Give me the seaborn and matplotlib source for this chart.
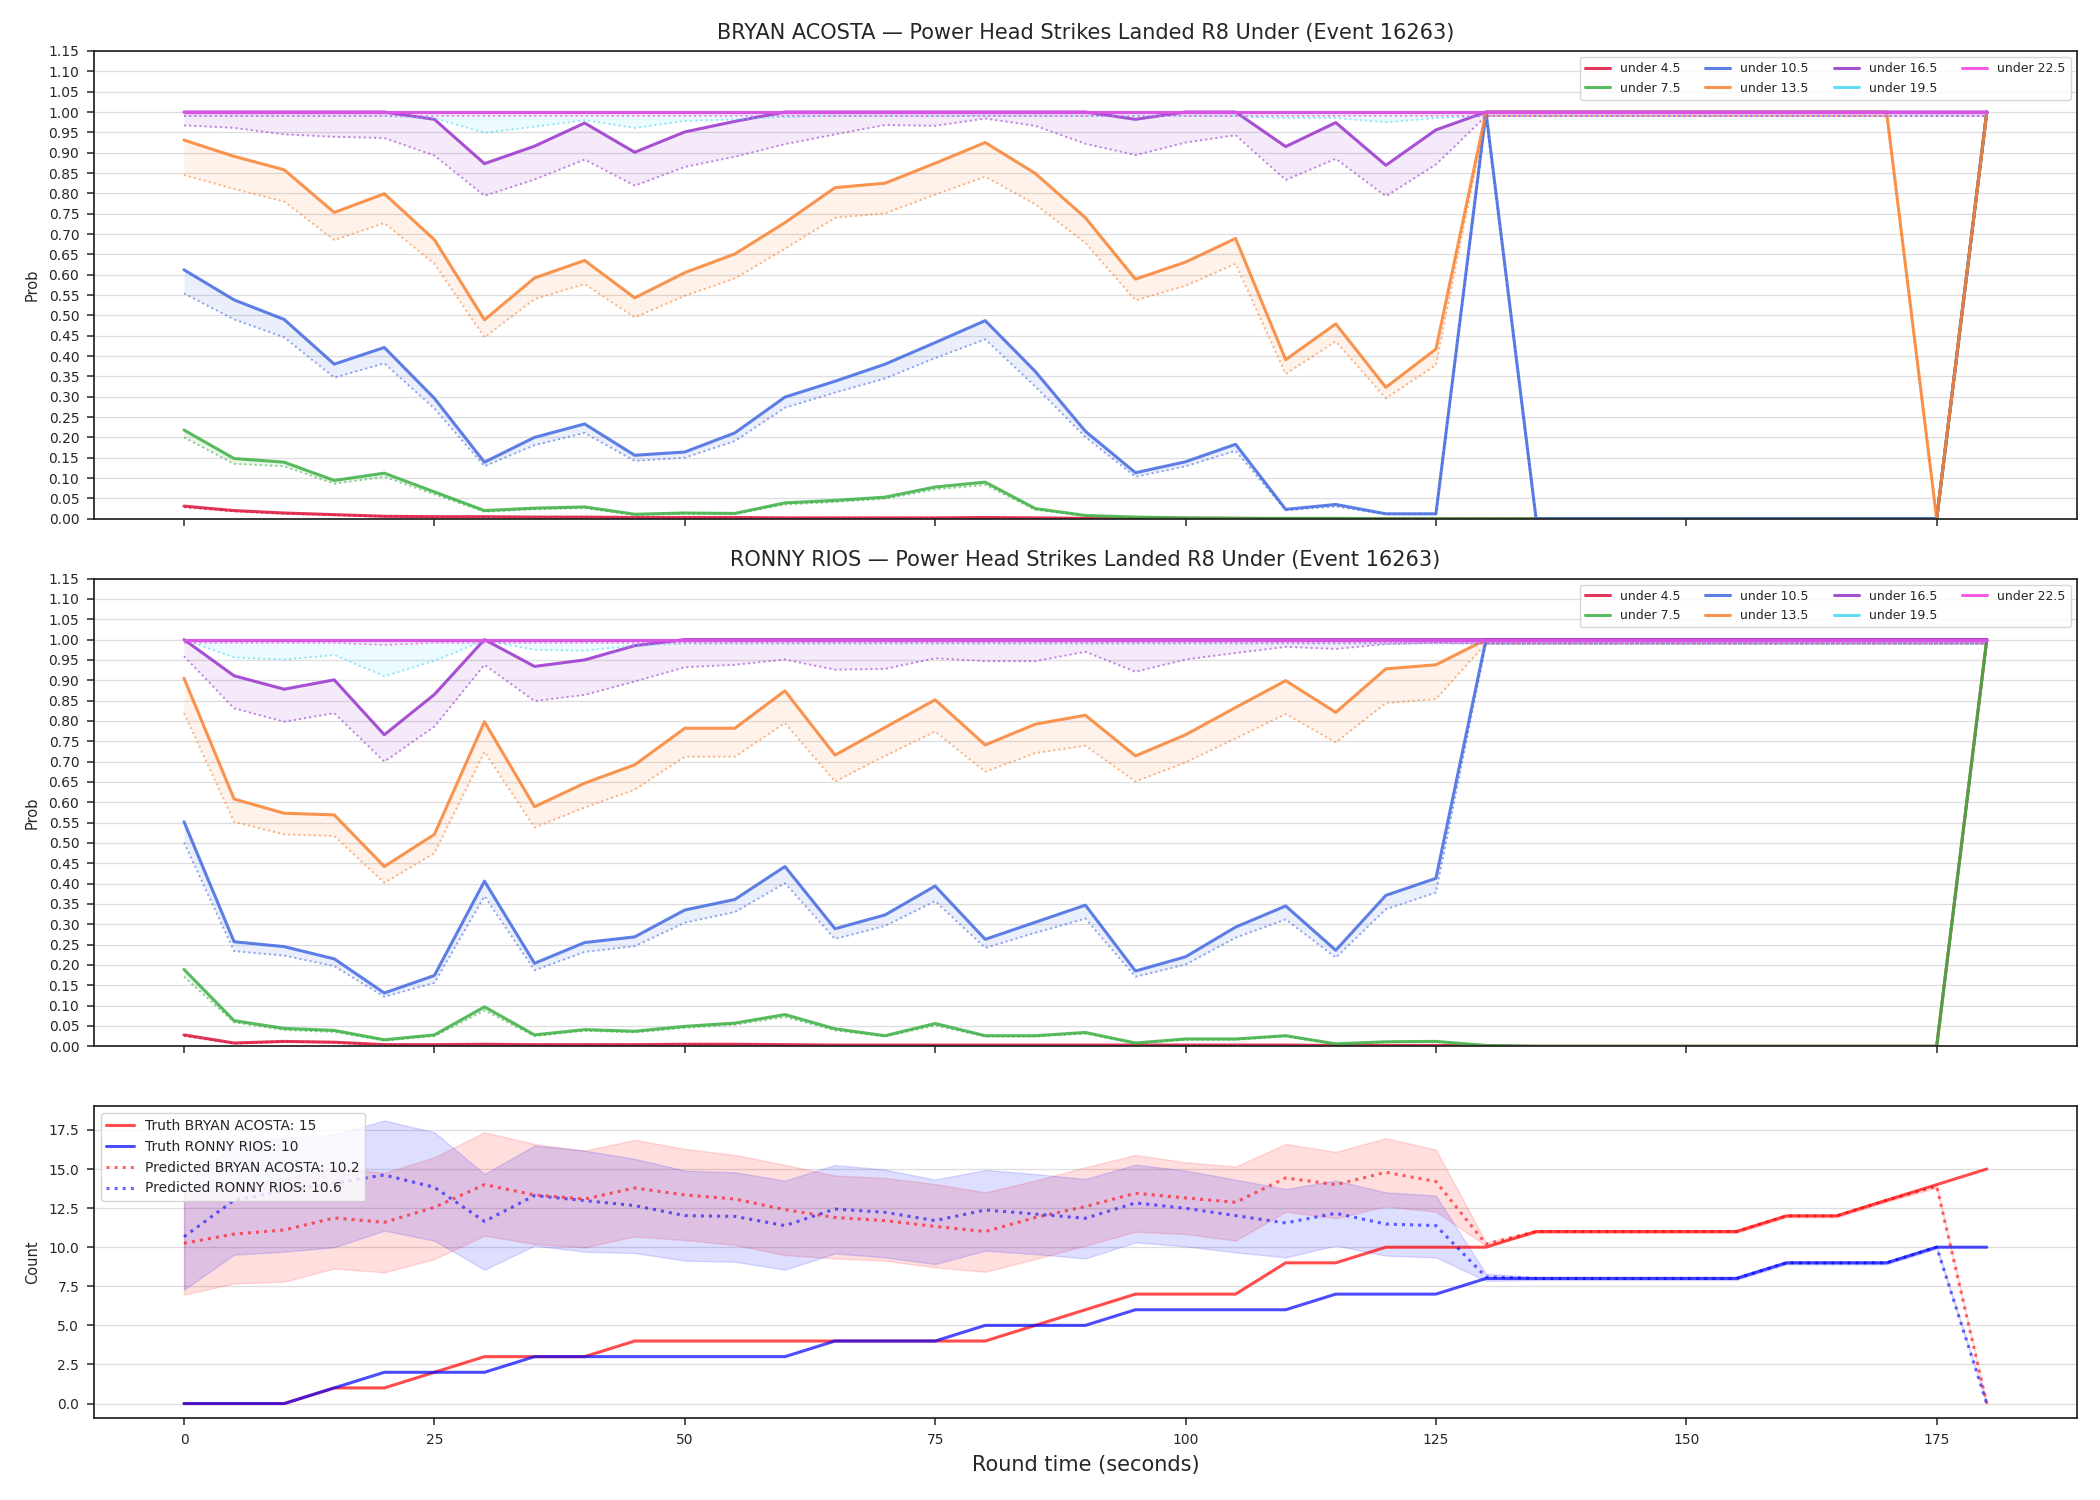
import numpy as np
import pandas as pd
import seaborn as sns
import matplotlib.pyplot as plt
from matplotlib.ticker import FormatStrFormatter

# round time, every 5 s
t = list(range(0, 181, 5))

labels = ["under 4.5", "under 7.5", "under 10.5", "under 13.5", "under 16.5", "under 19.5", "under 22.5"]
colori = ["#DC143C", "#3CB043", "#4169E1", "#F98231", "#9932CC", "#46D8F2", "#F23EE2"]

# --- BRYAN ACOSTA: probabilita' (linea piena) e banda inferiore (punteggiata) ---
b_u45 = [0.031, 0.020, 0.014, 0.010, 0.006, 0.005, 0.005, 0.004, 0.004, 0.003, 0.003, 0.003, 0.002,
         0.002, 0.002, 0.002, 0.003, 0.002, 0.001, 0.001, 0.001, 0.001, 0.0, 0.0, 0.0, 0.0, 0.0] + [0.0] * 9 + [1.0]
b_u45_lo = [0.028, 0.018, 0.012, 0.009, 0.005, 0.004, 0.004, 0.003, 0.003, 0.002, 0.002, 0.002, 0.002,
            0.002, 0.002, 0.002, 0.002, 0.002, 0.001, 0.001, 0.001, 0.001, 0.0, 0.0, 0.0, 0.0, 0.0] + [0.0] * 9 + [0.99]
b_u75 = [0.218, 0.148, 0.139, 0.094, 0.112, 0.066, 0.020, 0.026, 0.029, 0.011, 0.014, 0.013, 0.039,
         0.045, 0.053, 0.078, 0.090, 0.025, 0.008, 0.004, 0.002, 0.001, 0.001, 0.001, 0.0, 0.0, 0.0] + [0.0] * 9 + [1.0]
b_u75_lo = [0.200, 0.135, 0.129, 0.086, 0.103, 0.060, 0.017, 0.023, 0.026, 0.009, 0.012, 0.011, 0.035,
            0.041, 0.049, 0.072, 0.083, 0.022, 0.007, 0.003, 0.002, 0.001, 0.001, 0.001, 0.0, 0.0, 0.0] + [0.0] * 9 + [0.99]
b_u105 = [0.612, 0.538, 0.490, 0.380, 0.421, 0.296, 0.139, 0.200, 0.233, 0.156, 0.164, 0.211, 0.299,
          0.338, 0.380, 0.433, 0.487, 0.362, 0.215, 0.113, 0.140, 0.183, 0.023, 0.035, 0.012, 0.012, 1.0] + [0.0] * 9 + [1.0]
b_u105_lo = [0.554, 0.490, 0.446, 0.347, 0.382, 0.271, 0.129, 0.181, 0.211, 0.142, 0.150, 0.191, 0.273,
             0.310, 0.345, 0.395, 0.441, 0.325, 0.201, 0.103, 0.129, 0.167, 0.021, 0.030, 0.011, 0.011, 0.99] + [0.0] * 9 + [0.99]
b_u135 = [0.931, 0.891, 0.858, 0.753, 0.799, 0.686, 0.489, 0.592, 0.635, 0.543, 0.605, 0.651, 0.728,
          0.814, 0.825, 0.874, 0.925, 0.849, 0.740, 0.589, 0.631, 0.689, 0.391, 0.479, 0.323, 0.417, 1.0] + [1.0] * 8 + [0.0, 1.0]
b_u135_lo = [0.845, 0.811, 0.780, 0.685, 0.727, 0.627, 0.446, 0.540, 0.577, 0.495, 0.548, 0.591, 0.664,
             0.740, 0.751, 0.797, 0.841, 0.773, 0.678, 0.537, 0.573, 0.627, 0.356, 0.436, 0.296, 0.378, 0.99] + [0.99] * 8 + [0.0, 0.99]
b_u165 = [1.0, 1.0, 1.0, 1.0, 1.0, 0.982, 0.873, 0.916, 0.973, 0.901, 0.951, 0.977, 1.0,
          1.0, 1.0, 1.0, 1.0, 1.0, 1.0, 0.982, 1.0, 1.0, 0.915, 0.974, 0.869, 0.956] + [1.0] * 11
b_u165_lo = [0.967, 0.961, 0.945, 0.939, 0.936, 0.893, 0.794, 0.834, 0.883, 0.819, 0.865, 0.890, 0.921,
             0.945, 0.968, 0.966, 0.984, 0.966, 0.922, 0.894, 0.925, 0.943, 0.833, 0.885, 0.793, 0.871] + [0.99] * 11
b_u195 = [1.0] * 37
b_u195_lo = [0.99, 0.99, 0.99, 0.99, 0.99, 0.985, 0.949, 0.964, 0.980, 0.961, 0.978, 0.982, 0.988,
             0.99, 0.99, 0.99, 0.99, 0.99, 0.99, 0.99, 0.99, 0.99, 0.985, 0.985, 0.975, 0.985] + [0.99] * 11
b_u225 = [1.0] * 37
b_u225_lo = [0.99] * 37

# --- RONNY RIOS ---
r_u45 = [0.028, 0.008, 0.012, 0.010, 0.004, 0.004, 0.005, 0.004, 0.004, 0.004, 0.005, 0.005, 0.004,
         0.003, 0.003, 0.003, 0.003, 0.003, 0.003, 0.003, 0.003, 0.003, 0.003, 0.002, 0.002, 0.002, 0.001] + [0.0] * 9 + [1.0]
r_u45_lo = [0.025, 0.007, 0.011, 0.009, 0.003, 0.003, 0.004, 0.003, 0.003, 0.003, 0.004, 0.004, 0.003,
            0.002, 0.002, 0.002, 0.002, 0.002, 0.002, 0.002, 0.002, 0.002, 0.002, 0.001, 0.001, 0.001, 0.001] + [0.0] * 9 + [0.99]
r_u75 = [0.189, 0.063, 0.044, 0.039, 0.016, 0.028, 0.097, 0.028, 0.041, 0.037, 0.049, 0.057, 0.078,
         0.043, 0.026, 0.056, 0.026, 0.026, 0.034, 0.008, 0.018, 0.018, 0.026, 0.006, 0.011, 0.012, 0.002] + [0.0] * 9 + [1.0]
r_u75_lo = [0.171, 0.059, 0.040, 0.035, 0.014, 0.025, 0.088, 0.025, 0.038, 0.034, 0.045, 0.053, 0.072,
            0.039, 0.024, 0.051, 0.024, 0.024, 0.031, 0.007, 0.016, 0.016, 0.024, 0.005, 0.010, 0.011, 0.002] + [0.0] * 9 + [0.99]
r_u105 = [0.552, 0.257, 0.245, 0.215, 0.131, 0.174, 0.406, 0.204, 0.255, 0.269, 0.335, 0.361, 0.442,
          0.289, 0.323, 0.394, 0.263, 0.305, 0.347, 0.185, 0.220, 0.293, 0.345, 0.236, 0.371, 0.413] + [1.0] * 11
r_u105_lo = [0.501, 0.234, 0.223, 0.197, 0.122, 0.156, 0.369, 0.187, 0.232, 0.246, 0.304, 0.330, 0.401,
             0.264, 0.296, 0.357, 0.242, 0.279, 0.314, 0.171, 0.201, 0.267, 0.312, 0.218, 0.337, 0.378] + [0.99] * 11
r_u135 = [0.905, 0.608, 0.573, 0.569, 0.442, 0.521, 0.798, 0.589, 0.647, 0.692, 0.782, 0.782, 0.874,
          0.716, 0.784, 0.852, 0.741, 0.792, 0.814, 0.714, 0.766, 0.833, 0.899, 0.821, 0.928, 0.938] + [1.0] * 11
r_u135_lo = [0.819, 0.552, 0.521, 0.517, 0.402, 0.475, 0.724, 0.538, 0.587, 0.631, 0.712, 0.712, 0.795,
             0.651, 0.714, 0.774, 0.675, 0.721, 0.739, 0.651, 0.698, 0.757, 0.817, 0.747, 0.844, 0.854] + [0.99] * 11
r_u165 = [1.0, 0.911, 0.878, 0.901, 0.766, 0.865, 1.0, 0.934, 0.950, 0.985] + [1.0] * 27
r_u165_lo = [0.959, 0.831, 0.798, 0.819, 0.700, 0.786, 0.938, 0.849, 0.864, 0.897, 0.932, 0.938, 0.951,
             0.926, 0.928, 0.954, 0.947, 0.947, 0.970, 0.921, 0.951, 0.967, 0.982, 0.977, 0.989, 0.992] + [0.99] * 11
r_u195 = [1.0] * 37
r_u195_lo = [1.0, 0.956, 0.951, 0.962, 0.910, 0.948, 0.998, 0.975, 0.973, 0.985] + [0.99] * 27
r_u225 = [1.0] * 37
r_u225_lo = [0.992] * 4 + [0.987] + [0.992] * 32

# --- conteggi ---
truth_bryan = [0, 0, 0, 1, 1, 2, 3, 3, 3, 4, 4, 4, 4, 4, 4, 4, 4, 5, 6, 7, 7, 7, 9, 9, 10, 10,
               10, 11, 11, 11, 11, 11, 12, 12, 13, 14, 15]
truth_ronny = [0, 0, 0, 1, 2, 2, 2, 3, 3, 3, 3, 3, 3, 4, 4, 4, 5, 5, 5, 6, 6, 6, 6, 7, 7, 7,
               8, 8, 8, 8, 8, 8, 9, 9, 9, 10, 10]
pred_bryan = [10.25, 10.84, 11.1, 11.87, 11.59, 12.55, 14.0, 13.34, 13.08, 13.79, 13.34, 13.08, 12.4,
              11.9, 11.7, 11.33, 11.0, 11.9, 12.6, 13.45, 13.15, 12.87, 14.43, 14.0, 14.79, 14.2,
              10.2, 11, 11, 11, 11, 11, 12, 12, 13, 13.9, 0.0]
pred_ronny = [10.67, 13.0, 13.6, 14.1, 14.62, 13.83, 11.65, 13.3, 12.98, 12.66, 12.02, 11.97, 11.38,
              12.44, 12.23, 11.7, 12.38, 12.12, 11.85, 12.83, 12.49, 12.02, 11.55, 12.17, 11.48, 11.38,
              8.1, 8, 8, 8, 8, 8, 9, 9, 9, 10, 0.0]
bryan_lo = [6.96, 7.68, 7.79, 8.64, 8.39, 9.24, 10.74, 10.2, 9.99, 10.69, 10.46, 10.14, 9.5,
            9.28, 9.14, 8.71, 8.43, 9.24, 10.1, 10.99, 10.84, 10.42, 12.27, 11.85, 12.61, 12.27,
            10.1, 10.9, 10.9, 10.9, 10.9, 10.9, 11.9, 11.9, 12.9, 13.8, 0.0]
bryan_hi = [13.5, 14.0, 14.4, 15.1, 14.75, 15.75, 17.35, 16.6, 16.18, 16.86, 16.29, 15.9, 15.27,
            14.58, 14.43, 14.04, 13.51, 14.26, 15.11, 15.9, 15.43, 15.16, 16.6, 16.1, 16.97, 16.24,
            10.3, 11.1, 11.1, 11.1, 11.1, 11.1, 12.1, 12.1, 13.1, 14.0, 0.0]
ronny_lo = [7.28, 9.52, 9.71, 9.99, 11.06, 10.42, 8.56, 10.1, 9.71, 9.63, 9.14, 9.07, 8.56,
            9.6, 9.35, 8.92, 9.78, 9.56, 9.28, 10.31, 10.05, 9.67, 9.35, 10.1, 9.46, 9.35,
            7.85, 7.9, 7.9, 7.9, 7.9, 7.9, 8.9, 8.9, 8.9, 9.9, 0.0]
ronny_hi = [14.0, 16.6, 17.0, 17.2, 18.1, 17.35, 14.68, 16.5, 16.18, 15.65, 14.9, 14.79, 14.26,
            15.26, 14.96, 14.32, 14.94, 14.68, 14.36, 15.28, 14.9, 14.32, 13.72, 14.26, 13.51, 13.3,
            8.3, 8.1, 8.1, 8.1, 8.1, 8.1, 9.1, 9.1, 9.1, 10.1, 0.0]

sns.set_style("ticks")
plt.rcParams['font.family'] = ['DejaVu Sans']
plt.rcParams.update({
    'xtick.major.size': 5.25, 'ytick.major.size': 5.25,
    'xtick.major.width': 1.1, 'ytick.major.width': 1.1,
    'xtick.major.pad': 5.25, 'ytick.major.pad': 5.25,
    'axes.labelpad': 6, 'axes.titlepad': 9,
    'axes.linewidth': 1.25, 'axes.edgecolor': '#222222',
})

fig = plt.figure(figsize=(21, 15), dpi=100)
gs = fig.add_gridspec(3, 1, height_ratios=[3, 3, 2], left=0.0447, right=0.989,
                      top=0.966, bottom=0.0547, hspace=0.144)
ax1 = fig.add_subplot(gs[0])
ax2 = fig.add_subplot(gs[1], sharex=ax1)
ax3 = fig.add_subplot(gs[2], sharex=ax1)


def pannello_prob(ax, piene, basse, titolo):
    for lab, col, y, ylo in zip(labels, colori, piene, basse):
        ax.fill_between(t, y, ylo, color=col, alpha=0.1, lw=0)
        sns.lineplot(x=t, y=ylo, ax=ax, color=col, alpha=0.6, lw=1.4, linestyle=':')
        sns.lineplot(x=t, y=y, ax=ax, color=col, alpha=0.85, lw=2.2, label=lab)
    ax.set_ylim(0, 1.15)
    ax.set_yticks(np.arange(0, 1.151, 0.05))
    ax.yaxis.set_major_formatter(FormatStrFormatter('%.2f'))
    ax.set_ylabel('Prob', fontsize=10.5)
    ax.set_title(titolo, fontsize=15)
    ax.grid(axis='y', color='#dddddd', lw=0.9)
    ax.legend(loc='upper right', ncol=4, fontsize=9)
    ax.tick_params(labelbottom=False, labelsize=10)
    ax.set_xlabel('')


pannello_prob(ax1, [b_u45, b_u75, b_u105, b_u135, b_u165, b_u195, b_u225],
              [b_u45_lo, b_u75_lo, b_u105_lo, b_u135_lo, b_u165_lo, b_u195_lo, b_u225_lo],
              'BRYAN ACOSTA — Power Head Strikes Landed R8 Under (Event 16263)')
pannello_prob(ax2, [r_u45, r_u75, r_u105, r_u135, r_u165, r_u195, r_u225],
              [r_u45_lo, r_u75_lo, r_u105_lo, r_u135_lo, r_u165_lo, r_u195_lo, r_u225_lo],
              'RONNY RIOS — Power Head Strikes Landed R8 Under (Event 16263)')

ax3.fill_between(t, bryan_lo, bryan_hi, color='red', alpha=0.13)
ax3.fill_between(t, ronny_lo, ronny_hi, color='blue', alpha=0.13)
sns.lineplot(x=t, y=truth_bryan, ax=ax3, color='red', alpha=0.7, lw=2.2, label='Truth BRYAN ACOSTA: 15')
sns.lineplot(x=t, y=truth_ronny, ax=ax3, color='blue', alpha=0.7, lw=2.2, label='Truth RONNY RIOS: 10')
sns.lineplot(x=t, y=pred_bryan, ax=ax3, color='red', alpha=0.6, lw=2.2, linestyle=':',
             label='Predicted BRYAN ACOSTA: 10.2')
sns.lineplot(x=t, y=pred_ronny, ax=ax3, color='blue', alpha=0.6, lw=2.2, linestyle=':',
             label='Predicted RONNY RIOS: 10.6')
ax3.set_ylim(-0.92, 19.02)
ax3.set_yticks(np.arange(0, 18, 2.5))
ax3.set_ylabel('Count', fontsize=10.5)
ax3.set_xlabel('Round time (seconds)', fontsize=15)
ax3.grid(axis='y', color='#dddddd', lw=0.9)
ax3.legend(loc='upper left', fontsize=10)
ax3.tick_params(labelsize=10)

ax1.set_xlim(-9, 189)
ax1.set_xticks([0, 25, 50, 75, 100, 125, 150, 175])

fig.savefig('out.png', dpi=100)
plt.close()
